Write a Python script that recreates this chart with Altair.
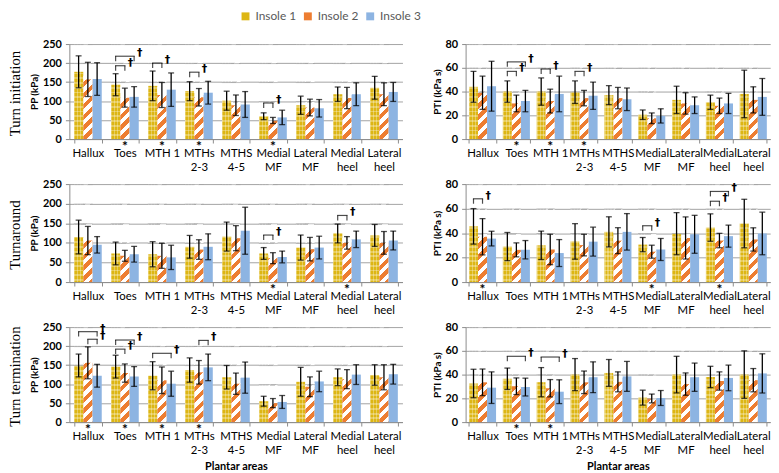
import altair as alt
import pandas as pd

CATEGORIES = ["Hallux", "Toes", "MTH 1", "MTHs 2-3", "MTHS 4-5",
              "Medial MF", "Lateral MF", "Medial heel", "Lateral heel"]
INSOLES = ["Insole 1", "Insole 2", "Insole 3"]
COLORS = ["#DDB614", "#ED7D31", "#8DB4E2"]
ROW_NAMES = ["Turn initiation", "Turnaround", "Turn termination"]

PP_TICKS = [0, 50, 100, 150, 200, 250]
PTI_TICKS = [0, 20, 40, 60, 80]

# ---- Turn initiation ----
PP_INIT_MEAN = [
    [177, 143, 140, 126, 101, 60, 89, 118, 135],
    [157, 109, 116, 110, 89, 49, 83, 108, 118],
    [158, 111, 130, 122, 91, 57, 81, 118, 124],
]
PP_INIT_SD = [
    [42, 29, 39, 25, 25, 9, 24, 19, 30],
    [45, 25, 33, 23, 27, 8, 22, 28, 30],
    [43, 27, 44, 30, 34, 19, 23, 30, 25],
]
PTI_INIT_MEAN = [
    [44, 40, 40, 39.5, 37, 20.5, 33, 31, 38],
    [39, 30, 32, 34.5, 34.5, 17.5, 30, 28, 33],
    [44.5, 32, 38, 36.5, 33.5, 19.5, 28.5, 30, 35.5],
]
PTI_INIT_SD = [
    [13, 9, 11.5, 9.5, 8, 4, 11.5, 6, 20],
    [14, 7, 10, 6.5, 9, 4.5, 9, 6.5, 11],
    [21, 9, 15, 11.5, 9.5, 6, 7, 8.5, 15.5],
]
# ---- Turnaround ----
PP_TURN_MEAN = [
    [115, 73, 71, 90, 116, 73, 88, 124, 119],
    [106, 67, 67, 83, 112, 61, 84, 100, 100],
    [95, 71, 63, 90, 131, 64, 88, 109, 106],
]
PP_TURN_SD = [
    [43, 29, 32, 29, 37, 15, 32, 24, 28],
    [36, 14, 32, 25, 32, 14, 30, 16, 29],
    [21, 20, 31, 33, 60, 15, 29, 21, 24],
]
PTI_TURN_MEAN = [
    [45.5, 29, 30, 33.2, 41, 30.6, 39.5, 44.5, 47.8],
    [37, 26.3, 26.6, 30.2, 33.8, 24.8, 36, 33.9, 34.8],
    [35.5, 26.4, 23.7, 33, 41, 26.6, 39, 37.5, 39.7],
]
PTI_TURN_SD = [
    [14.5, 11.5, 11.6, 14.5, 12.3, 5.8, 17.2, 11.2, 19.8],
    [14.8, 5.7, 12.4, 8.8, 10.6, 5.3, 17.2, 5.9, 9.5],
    [6, 7.5, 11, 11.8, 14.9, 9, 15.5, 9, 17.4],
]
# ---- Turn termination ----
PP_TERM_MEAN = [
    [149, 146, 122, 137, 118, 55, 106, 118, 124],
    [156, 129, 110, 131, 101, 50, 93, 113, 118],
    [122, 120, 101, 144, 117, 53, 107, 125, 126],
]
PP_TERM_SD = [
    [30, 30, 37, 32, 31, 13, 38, 22, 27],
    [42, 24, 35, 31, 28, 12, 26, 25, 33],
    [30, 26, 33, 35, 41, 17, 27, 26, 26],
]
PTI_TERM_MEAN = [
    [32.5, 36.5, 33.6, 40, 41.4, 20.6, 40, 38, 40],
    [33.5, 30.2, 28.5, 33.5, 33.9, 19.9, 32, 34.6, 35.3],
    [29, 29.5, 25.6, 37.8, 38.5, 20.3, 37.8, 37.2, 41],
]
PTI_TERM_SD = [
    [12, 9, 12.3, 13.5, 11.3, 6.3, 15.4, 9, 20],
    [11.2, 7, 7.3, 9.5, 8.4, 3.7, 9.4, 7.7, 9.8],
    [13.3, 7.5, 10, 13, 12.6, 6.3, 11.9, 10.8, 16.5],
]

# significance brackets: (category, from insole, to insole, height)
PP_INIT_BRACKETS = [("Toes", 1, 2, 193), ("Toes", 1, 3, 218), ("MTH 1", 1, 2, 200),
                    ("MTHs 2-3", 1, 2, 176), ("Medial MF", 1, 2, 95)]
PTI_INIT_BRACKETS = [("Toes", 1, 2, 57), ("Toes", 1, 3, 65), ("MTH 1", 1, 2, 59),
                     ("MTHs 2-3", 1, 2, 57)]
PP_TURN_BRACKETS = [("Medial MF", 1, 2, 120), ("Medial heel", 1, 2, 170)]
PTI_TURN_BRACKETS = [("Hallux", 1, 2, 68), ("Medial MF", 1, 2, 46),
                     ("Medial heel", 1, 2, 66), ("Medial heel", 1, 3, 74)]
PP_TERM_BRACKETS = [("Hallux", 1, 3, 238), ("Hallux", 2, 3, 218), ("Toes", 1, 3, 216),
                    ("Toes", 1, 2, 192), ("MTH 1", 1, 3, 181), ("MTHs 2-3", 2, 3, 215)]
PTI_TERM_BRACKETS = [("Toes", 1, 3, 55.4), ("MTH 1", 1, 3, 54.8)]

PP_INIT_STARS = ["Toes", "MTH 1", "MTHs 2-3", "Medial MF"]
PTI_INIT_STARS = ["Toes", "MTH 1", "MTHs 2-3"]
PP_TURN_STARS = ["Medial MF", "Medial heel"]
PTI_TURN_STARS = ["Hallux", "Medial MF", "Medial heel"]
PP_TERM_STARS = ["Hallux", "Toes", "MTH 1", "MTHs 2-3"]
PTI_TERM_STARS = ["Toes", "MTH 1"]

PANELS = [
    [("PP (kPa)", PP_TICKS, PP_INIT_MEAN, PP_INIT_SD, PP_INIT_BRACKETS, PP_INIT_STARS),
     ("PTI (kPa s)", PTI_TICKS, PTI_INIT_MEAN, PTI_INIT_SD, PTI_INIT_BRACKETS, PTI_INIT_STARS)],
    [("PP (kPa)", PP_TICKS, PP_TURN_MEAN, PP_TURN_SD, PP_TURN_BRACKETS, PP_TURN_STARS),
     ("PTI (kPa s)", PTI_TICKS, PTI_TURN_MEAN, PTI_TURN_SD, PTI_TURN_BRACKETS, PTI_TURN_STARS)],
    [("PP (kPa)", PP_TICKS, PP_TERM_MEAN, PP_TERM_SD, PP_TERM_BRACKETS, PP_TERM_STARS),
     ("PTI (kPa s)", PTI_TICKS, PTI_TERM_MEAN, PTI_TERM_SD, PTI_TERM_BRACKETS, PTI_TERM_STARS)],
]

FONT = "Lato"
SERIF = "Liberation Serif"
STEP = [37.4, 34.2]
PAD_INNER = [0.25, 0.2]
ROW_H = [96, 99, 96]
GRID = "#A3A3A3"
AXIS = "#8C8C8C"


def long_df(mean, sd):
    rows = []
    for k, ins in enumerate(INSOLES):
        for i, cat in enumerate(CATEGORIES):
            m, s = mean[k][i], sd[k][i]
            rows.append({"cat": cat, "insole": ins, "mean": m, "lo": m - s, "hi": m + s})
    return pd.DataFrame(rows)


def hard_stops(total, period, frac, on, off):
    out = []
    s = 0.0
    while s < total - 1e-9:
        a = round(s / total, 4)
        b = round(min((s + frac * period) / total, 1.0), 4)
        c = round(min((s + period) / total, 1.0), 4)
        out += [alt.GradientStop(color=on, offset=a), alt.GradientStop(color=on, offset=b),
                alt.GradientStop(color=off, offset=b), alt.GradientStop(color=off, offset=c)]
        s += period
    return out


def stripe_fill(w, H):
    k = (w + H) / (w * w + H * H)
    return alt.LinearGradient(gradient="linear",
                              stops=hard_stops(w + H, 11.0, 0.5, "#FFFFFF", "rgba(255,255,255,0)"),
                              x1=0, y1=0, x2=round(w * k, 5), y2=round(H * k, 5))


def band_fill(total, period, horizontal):
    st = hard_stops(total, period, 0.4, "rgba(255,255,255,0.3)", "rgba(255,255,255,0)")
    if horizontal:
        return alt.LinearGradient(gradient="linear", stops=st, x1=0, y1=0, x2=0, y2=1)
    return alt.LinearGradient(gradient="linear", stops=st, x1=0, y1=0, x2=1, y2=0)


def make_panel(row, col):
    ytitle, ticks, mean, sd, brackets, stars = PANELS[row][col]
    H = ROW_H[row]
    step, pin = STEP[col], PAD_INNER[col]
    W = step * len(CATEGORIES)
    w = step * (1 - pin) / 3
    ymax = ticks[-1]
    df = long_df(mean, sd)

    x_axis = alt.Axis(labelExpr="datum.label == 'MTH 1' ? 'MTH 1' : split(datum.label, ' ')",
                      labelAngle=0, tickBand="extent", tickSize=4, tickColor=AXIS,
                      domainColor=AXIS, labelFontSize=11.5, labelLineHeight=14,
                      labelPadding=5, labelColor="black", grid=False,
                      titleFontSize=11, titleFontWeight="bold", titleColor="black",
                      titlePadding=4)
    xtitle = "Plantar areas" if row == 2 else None
    xscale = alt.Scale(domain=CATEGORIES, paddingInner=pin, paddingOuter=pin / 2)

    def X():
        return alt.X("cat:N", scale=xscale, axis=x_axis, title=xtitle)

    def XO():
        return alt.XOffset("insole:N", scale=alt.Scale(domain=INSOLES, paddingInner=0, paddingOuter=0))

    y_axis = alt.Axis(values=ticks, grid=True, gridColor=GRID, gridWidth=1, domainColor=AXIS,
                      tickColor=AXIS, tickSize=4, labelPadding=4, labelFontSize=11,
                      labelFontWeight="bold", labelColor="black", titleFontSize=10,
                      titleFontWeight="bold", titleColor="black", titlePadding=3)
    yscale = alt.Scale(domain=[0, ymax], nice=False)

    def Y(field):
        return alt.Y(field, type="quantitative", scale=yscale, axis=y_axis, title=ytitle, stack=None)

    black = alt.value("black")
    layers = []
    bars = alt.Chart(df).mark_bar(strokeWidth=0).encode(
        x=X(), xOffset=XO(), y=Y("mean"),
        color=alt.Color("insole:N", scale=alt.Scale(domain=INSOLES, range=COLORS),
                        legend=alt.Legend(orient="none", legendX=172, legendY=-34,
                                          direction="horizontal", title=None,
                                          symbolType="square", symbolSize=64,
                                          symbolStrokeWidth=0, labelFontSize=12,
                                          labelColor="#595959", labelFont=FONT,
                                          columnPadding=5, labelOffset=4)))
    layers.append(bars)

    d1 = df[df.insole == "Insole 1"]
    d2 = df[df.insole == "Insole 2"]
    for fill in (band_fill(H, 4.8, True), band_fill(w, w / 3, False)):
        layers.append(alt.Chart(d1).mark_bar(fill=fill, strokeWidth=0).encode(
            x=X(), xOffset=XO(),
            y=alt.YDatum(ymax, scale=yscale, axis=y_axis, title=ytitle),
            y2=alt.Y2Datum(0)))
    layers.append(alt.Chart(d2).mark_bar(fill=stripe_fill(w, H), strokeWidth=0).encode(
        x=X(), xOffset=XO(),
        y=alt.YDatum(ymax, scale=yscale, axis=y_axis, title=ytitle),
        y2=alt.Y2Datum(0)))

    # gridline segments above patterned bars
    rep = []
    for _, r in pd.concat([d1, d2]).iterrows():
        for g in ticks[1:]:
            if g > r["mean"]:
                rep.append({"cat": r["cat"], "insole": r["insole"], "g": g})
    layers.append(alt.Chart(pd.DataFrame(rep)).mark_tick(
        orient="horizontal", size=w + 0.4, thickness=1, yOffset=0.5).encode(
        x=X(), xOffset=XO(), y=Y("g"), color=alt.value(GRID)))

    # error bars
    layers.append(alt.Chart(df).mark_rule(strokeWidth=1.3).encode(
        x=X(), xOffset=XO(), y=Y("lo"), y2="hi", color=black))
    caps = pd.concat([df.assign(v=df["lo"]), df.assign(v=df["hi"])])
    layers.append(alt.Chart(caps).mark_tick(orient="horizontal", size=6, thickness=1.3).encode(
        x=X(), xOffset=XO(), y=Y("v"), color=black))

    # brackets
    br = pd.DataFrame([{"cat": c, "a": a, "b": b, "v": v,
                        "ia": INSOLES[a - 1], "ib": INSOLES[b - 1]} for c, a, b, v in brackets])
    legs = pd.concat([br.assign(insole=br["ia"]), br.assign(insole=br["ib"])])
    layers.append(alt.Chart(legs).mark_tick(orient="vertical", size=5, thickness=1.2,
                                            yOffset=2.5).encode(
        x=X(), xOffset=XO(), y=Y("v"), color=black))
    for (a, b), sub in br.groupby(["a", "b"]):
        layers.append(alt.Chart(sub).mark_tick(
            orient="horizontal", size=(b - a) * w + 1.2, thickness=1.2,
            xOffset=((a + b) / 2 - 2) * w).encode(x=X(), y=Y("v"), color=black))
    layers.append(alt.Chart(br.assign(insole=br["ib"], t="†")).mark_text(
        align="left", baseline="middle", dx=3, dy=-3, fontSize=11, fontWeight="bold",
        font="DejaVu Sans", fill="black").encode(
        x=X(), xOffset=XO(), y=Y("v"), text="t:N"))

    # significance stars
    layers.append(alt.Chart(pd.DataFrame({"cat": stars, "t": ["*"] * len(stars)})).mark_text(
        fontSize=14, fontWeight="bold", baseline="middle").encode(
        x=X(), y=alt.value(H + 8), text="t:N", color=black))

    if col == 0:
        layers.append(alt.Chart(pd.DataFrame({"t": [ROW_NAMES[row]]})).mark_text(
            angle=270, font=SERIF, fontSize=15, baseline="middle").encode(
            x=alt.value(-55), y=alt.value(H / 2 + 2), text="t:N", color=black))

    return alt.layer(*layers).properties(width=W, height=H)


panels = [make_panel(r, c) for r in range(3) for c in range(2)]
chart = alt.concat(*panels, columns=2, bounds="flush",
                   spacing=alt.RowColnumber(row=45.5, column=63.4)).resolve_scale(
    xOffset="independent", color="shared").properties(padding=0)
chart = chart.configure(font=FONT).configure_view(stroke=None)

chart.save("out.html", embed_options={"renderer": "svg", "actions": False})
